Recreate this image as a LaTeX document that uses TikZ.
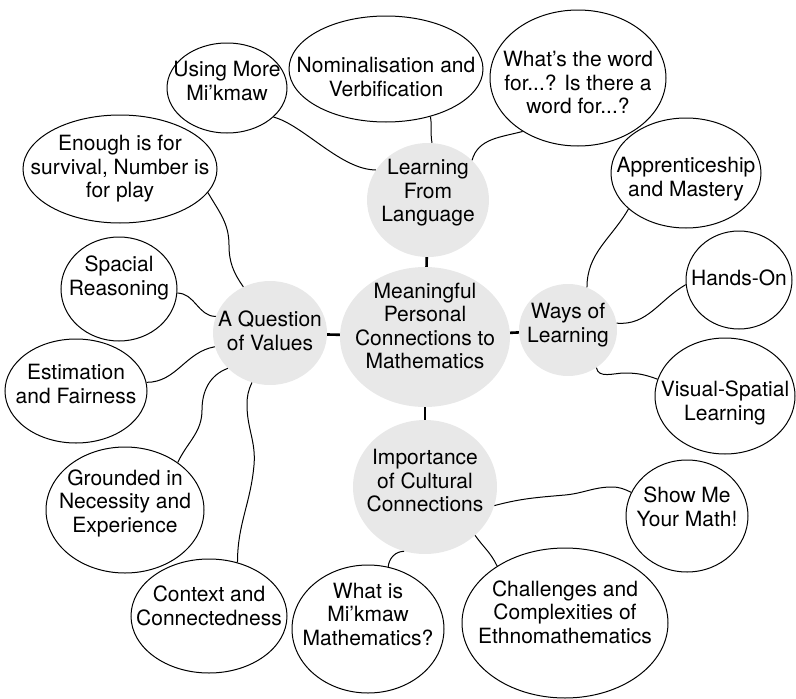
\documentclass[tikz,border=0pt]{standalone}
\usepackage{fontspec}
\setmainfont{TeX Gyre Heros}
\usetikzlibrary{shapes.geometric}

\begin{document}
\begin{tikzpicture}[x=1pt, y=1pt, font=\fontsize{21}{23.5}\selectfont,
		leaf/.style={draw, ellipse, line width=1pt, inner sep=0pt},
		hub/.style={ellipse, fill=gray!18, inner sep=0pt},
		txt/.style={align=center, inner sep=0pt},
		link/.style={line width=1pt},
		spoke/.style={line width=2.6pt}]
				\useasboundingbox (0, 0) rectangle (796, -699);
				\node[hub, minimum width=170, minimum height=140, label={[txt, yshift=11]center:{Meaningful\\Personal\\Connections to\\Mathematics}}] (core)at(425, -337) {};
				\node[hub, minimum width=122, minimum height=114, label={[txt, yshift=7]center:{Learning\\From\\Language}}] (lfl)at(428, -200) {};
				\node[hub, minimum width=114, minimum height=104, label={[txt, yshift=2]center:{A Question\\of Values}}] (qov)at(270, -333) {};
				\node[hub, minimum width=98, minimum height=92, label={[txt, yshift=5]center:{Ways of\\Learning}}] (wol)at(568, -330) {};
				\node[hub, minimum width=144, minimum height=134, label={[txt, yshift=6]center:{Importance\\of Cultural\\Connections}}] (icc)at(425, -487) {};
				\node[leaf, minimum width=120, minimum height=90, label={[txt, yshift=7]center:{Using More\\Mi’kmaw}}] (more)at(227, -88) {};
				\node[leaf, minimum width=194, minimum height=106, label={[txt, yshift=-8]center:{Nominalisation and\\Verbification}}] (nom)at(386, -69) {};
				\node[leaf, minimum width=176, minimum height=136, label={[txt, yshift=-5]center:{What’s the word\\for...? Is there a\\word for...?}}] (word)at(578, -78) {};
				\node[leaf, minimum width=194, minimum height=108, label={[txt]center:{Enough is for\\survival, Number is\\for play}}] (enough)at(120, -169) {};
				\node[leaf, minimum width=116, minimum height=104, label={[txt, yshift=11]center:{Spacial\\Reasoning}}] (spacial)at(119, -289) {};
				\node[leaf, minimum width=142, minimum height=104, label={[txt, yshift=7]center:{Estimation\\and Fairness}}] (estim)at(76, -391) {};
				\node[leaf, minimum width=158, minimum height=126, label={[txt, yshift=7]center:{Grounded in\\Necessity and\\Experience}}] (ground)at(125, -510) {};
				\node[leaf, minimum width=156, minimum height=114, label={[txt, yshift=10]center:{Context and\\Connectedness}}] (context)at(209, -616) {};
				\node[leaf, minimum width=152, minimum height=128, label={[txt, yshift=15]center:{What is\\Mi’kmaw\\Mathematics?}}] (whatis)at(368, -629) {};
				\node[leaf, minimum width=206, minimum height=150, label={[txt, yshift=11]center:{Challenges and\\Complexities of\\Ethnomathematics}}] (chall)at(565, -623) {};
				\node[leaf, minimum width=122, minimum height=112, label={[txt, yshift=9]center:{Show Me\\Your Math!}}] (show)at(687, -516) {};
				\node[leaf, minimum width=140, minimum height=116, label={[txt, yshift=-7]center:{Visual-Spatial\\Learning}}] (visual)at(725, -396) {};
				\node[leaf, minimum width=106, minimum height=98, label={[txt, yshift=2]center:{Hands-On}}] (hands)at(739, -280) {};
				\node[leaf, minimum width=150, minimum height=110, label={[txt, yshift=-6]center:{Apprenticeship\\and Mastery}}] (appr)at(686, -173) {};
				\draw[spoke] (lfl) -- (core);
				\draw[spoke] (qov) -- (core);
				\draw[spoke] (wol) -- (core);
				\draw[spoke] (icc) -- (core);
				\draw[link] (more.-32) .. controls +(30, -8) and +(-35, 0) .. (lfl.150);
				\draw[link] (nom.-47) to[out=-80, in=100] (lfl.86);
				\draw[link] (word.-136) to[out=-165, in=75] (lfl.42);
				\draw[link] (enough.-15) to[out=-60, in=90] (229, -245) to[out=-90, in=125] (qov.120);
				\draw[link] (spacial.-4) to[out=0, in=180] (qov.163);
				\draw[link] (estim.7) to[out=0, in=190] (qov.-166);
				\draw[link] (ground.42) to[out=65, in=-90] (202, -410) to[out=90, in=200] (qov.-140);
				\draw[link] (context.62) to[out=90, in=-95] (254, -465) to[out=85, in=-90] (247, -405) to[out=90, in=-115] (qov.-110);
				\draw[link] (appr.-148) to[out=-120, in=90] (wol.66);
				\draw[link] (hands.-175) to[out=-150, in=-5] (wol.8);
				\draw[link] (visual.166) to[out=160, in=0] (625, -373) to[out=180, in=-80] (wol.-53);
				\draw[link] (show.157) to[out=155, in=0] (612, -487) to[out=180, in=5] (565, -495) to[out=185, in=15] (icc.-15);
				\draw[link] (whatis.72) to[out=85, in=180] (icc.-108);
				\draw[link] (chall.140) to[out=115, in=-55] (icc.-44);
			\end{tikzpicture}
\end{document}
